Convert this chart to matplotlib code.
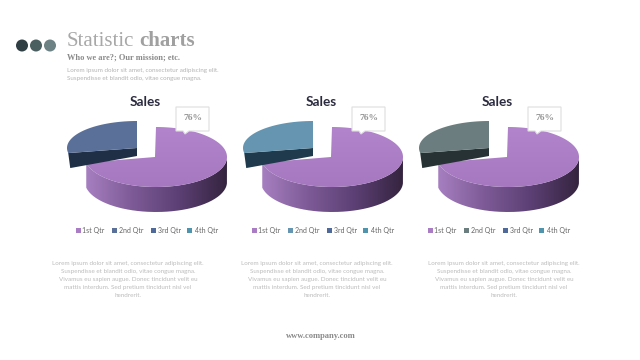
import matplotlib
matplotlib.use('Agg')
import matplotlib.pyplot as plot
from matplotlib.patches import Circle, PathPatch, Polygon, Rectangle
from matplotlib.path import Path
import numpy as np

# slice shares as they look on the picture, label is what the callout says
shares = [72, 28, 0, 0]
callout_label = "76%"
quarters = ["1st Qtr", "2nd Qtr", "3rd Qtr", "4th Qtr"]
chart_title = "Sales"
second_slice_colors = ["#5a7099", "#6595b0", "#6b7d7e"]
second_slice_sides = ["#1f2f45", "#1f3a4c", "#263234"]
legend_colors_rest = ["#a97cc4", None, "#4f6a9a", "#4f93ad"]

body_lines = ["Lorem ipsum dolor sit amet, consectetur adipiscing elit.",
              "Suspendisse et blandit odio, vitae congue magna.",
              "Vivamus eu sapien augue. Donec tincidunt velit eu",
              "mattis interdum. Sed pretium tincidunt nisl vel",
              "hendrerit."]
intro_lines = ["Lorem ipsum dolor sit amet, consectetur adipiscing elit.",
               "Suspendisse et blandit odio, vitae congue magna."]

SANS = 'Lato'
SERIF = 'Liberation Serif'


def arc(cx, cy, rx, ry, a0, a1):
    t = np.radians(np.linspace(a0, a1, 120))
    return np.column_stack([cx + rx * np.cos(t), cy - ry * np.sin(t)])


def gradient_fill(ax, verts, colors, horizontal=True):
    cmap = matplotlib.colors.LinearSegmentedColormap.from_list('g', colors)
    patch = PathPatch(Path(np.vstack([verts, verts[:1]])), facecolor='none', edgecolor='none')
    ax.add_patch(patch)
    x0, y0 = verts.min(axis=0)
    x1, y1 = verts.max(axis=0)
    grad = np.linspace(0, 1, 256).reshape(1, -1) if horizontal else np.linspace(0, 1, 256).reshape(-1, 1)
    img = ax.imshow(grad, extent=(x0, x1, y1, y0), cmap=cmap, aspect='auto', zorder=patch.get_zorder(),
                    interpolation='bilinear')
    img.set_clip_path(patch)


def draw_pie(ax, dx, i):
    sweep = 360.0 * shares[0] / sum(shares)
    end = 90 - sweep + 360

    # second slice sits behind, pulled out to upper left
    cx, cy, rx, ry = 137 + dx, 148, 70, 27
    edge = arc(cx, cy, rx, ry, 90, end)
    left = edge[-1]
    apex = np.array([cx, cy])
    ax.add_patch(Polygon([left, apex, apex + [0, 8], left + [2, 15]],
                         closed=True, facecolor=second_slice_sides[i], edgecolor='none', zorder=2))
    top = np.vstack([[apex], edge])
    ax.add_patch(Polygon(top, closed=True, facecolor=second_slice_colors[i], edgecolor='none', zorder=2))

    # first slice, side wall then top
    cx, cy, rx, ry, depth = 156 + dx, 157, 71, 30, 25
    front = arc(cx, cy, rx, ry, end, 360)
    wall = np.vstack([front, (front + [0, depth])[::-1]])
    gradient_fill(ax, wall, ["#a67fc0", "#7d5a96", "#5b3f73", "#35243f"])
    top = np.vstack([[[cx - 1, cy]], arc(cx, cy, rx, ry, 90, 90 - sweep)])
    gradient_fill(ax, top, ["#b184cb", "#a678c0"], horizontal=False)

    # callout
    x0 = 176 + dx
    ax.add_patch(Polygon([[x0, 107], [x0 + 33, 107], [x0 + 33, 131], [x0 + 13, 131], [x0 + 9, 134],
                          [x0 + 7, 131], [x0, 131]], closed=True, facecolor='white',
                         edgecolor='#dedede', linewidth=0.8, zorder=5))
    ax.text(x0 + 16.5, 118.5, callout_label, fontsize=6.8, family=SERIF, fontweight='bold', color='#969696',
            ha='center', va='center', zorder=6)

    ax.text(145.5 + dx, 102, chart_title, fontsize=9.8, family=SANS, fontweight='bold', color='#2b2b40',
            ha='center', va='center')

    # legend
    swatch_x = [75.5, 112, 151, 187]
    label_x = [82, 119, 158, 195]
    for k, q in enumerate(quarters):
        c = legend_colors_rest[k] or second_slice_colors[i]
        ax.add_patch(Rectangle((swatch_x[k] + dx, 227.5), 5, 5, facecolor=c, edgecolor='none'))
        ax.text(label_x[k] + dx, 230, q, fontsize=5, family=SANS, color='#666666', ha='left', va='center')


fig = plot.figure(figsize=(6.4, 3.6), dpi=100)
ax = fig.add_axes([0, 0, 1, 1])
ax.set_xlim(0, 640)
ax.set_ylim(360, 0)
ax.axis('off')

# header
for x, c in zip([22, 36, 50], ["#2f3f44", "#4b5f60", "#6c8285"]):
    ax.add_patch(Circle((x, 45.5), 6, facecolor=c, edgecolor='none'))
ax.text(67, 41, "Statistic", fontsize=15, family=SERIF, color='#a8a8a8', ha='left', va='center')
ax.text(139, 41, "charts", fontsize=15, family=SERIF, fontweight='bold', color='#a0a0a0', ha='left', va='center')
ax.text(67, 58, "Who we are?; Our mission; etc.", fontsize=6.0, family=SERIF, fontweight='bold',
        color='#8a8a8a', ha='left', va='center')
for k, line in enumerate(intro_lines):
    ax.text(67, 70.5 + k * 8, line, fontsize=4.5, family=SANS, color='#b4b4b4', ha='left', va='center')

for i, dx in enumerate([0, 176, 352]):
    draw_pie(ax, dx, i)

for cx in [128, 317, 504]:
    for k, line in enumerate(body_lines):
        ax.text(cx, 263.5 + k * 8, line, fontsize=4.5, family=SANS, color='#bcbcbc', ha='center', va='center')

ax.text(321, 336, "www.company.com", fontsize=6.1, family=SERIF, fontweight='bold', color='#8a8a8a',
        ha='center', va='center')

ax.set_xlim(0, 640)
ax.set_ylim(360, 0)
fig.savefig('out.png', dpi=100, facecolor='white')
